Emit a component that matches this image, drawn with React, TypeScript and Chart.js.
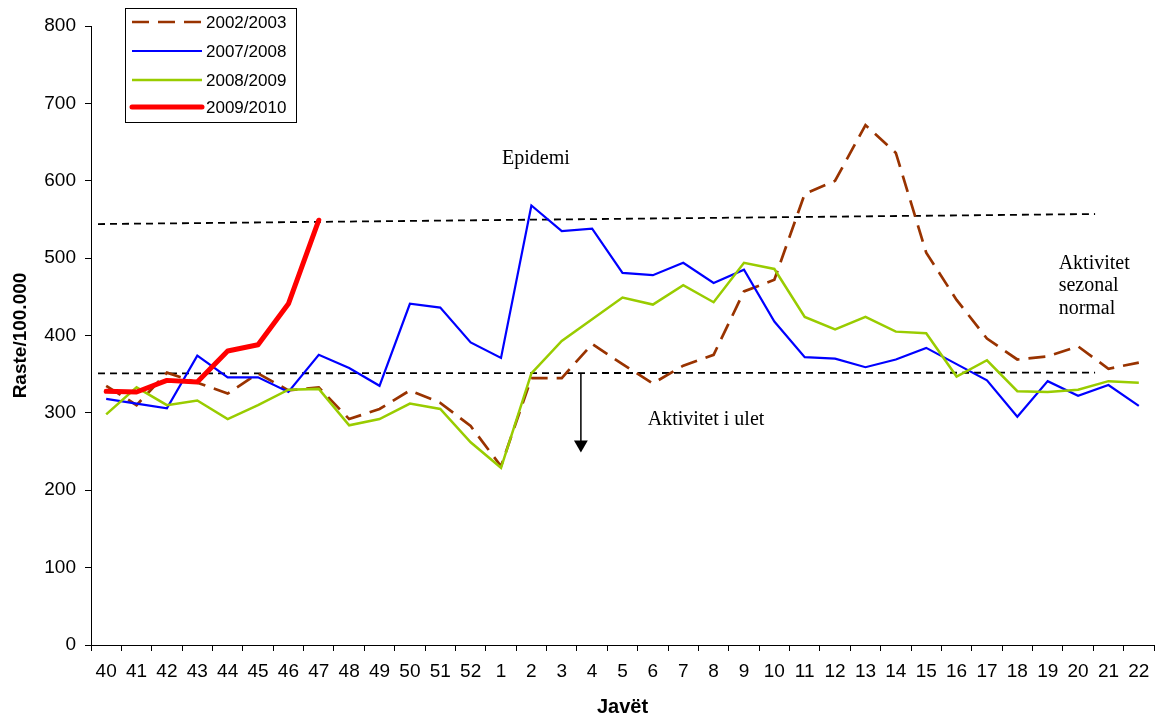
import React, { useEffect, useRef } from "react";
import { Chart, registerables } from "chart.js";

Chart.register(...registerables);

// Week labels (autumn weeks 40-52 then weeks 1-22)
const weeks = [
  "40", "41", "42", "43", "44", "45", "46", "47", "48", "49", "50", "51", "52",
  "1", "2", "3", "4", "5", "6", "7", "8", "9", "10", "11", "12", "13", "14", "15",
  "16", "17", "18", "19", "20", "21", "22",
];

const seriesNames = ["2002/2003", "2007/2008", "2008/2009", "2009/2010"];

const s0203 = [
  335, 310, 352, 339, 325, 351, 329, 333, 292, 305, 329, 313, 283,
  231, 345, 345, 389, 363, 338, 361, 375, 457, 472, 583, 600, 672, 636, 507,
  446, 396, 369, 373, 386, 357, 365,
];
const s0708 = [
  318, 312, 306, 374, 346, 346, 327, 375, 358, 335, 441, 436, 391,
  371, 568, 535, 538, 481, 478, 494, 468, 485, 418, 372, 370, 359, 369, 384,
  363, 342, 295, 341, 322, 336, 309,
];
const s0809 = [
  298, 333, 310, 316, 292, 310, 330, 331, 284, 292, 312, 305, 262,
  229, 351, 393, 421, 449, 440, 465, 443, 494, 486, 424, 408, 424, 405, 403,
  347, 368, 328, 327, 330, 341, 339,
];
const s0910 = [328, 327, 342, 340, 380, 388, 441, 549];

// Threshold lines (x in category-index units)
const epidemicLine = [
  { x: -0.27, y: 544 },
  { x: 32.56, y: 557 },
];
const seasonalLine = [
  { x: -0.27, y: 351 },
  { x: 32.56, y: 352 },
];
const arrowLine = [
  { x: 15.63, y: 351 },
  { x: 15.63, y: 259 },
];

const yTicks = [0, 100, 200, 300, 400, 500, 600, 700, 800];

const SANS = "'Liberation Sans', Arial, sans-serif";
const SERIF = "'Liberation Serif', 'Times New Roman', serif";

const colors = {
  s0203: "#993300",
  s0708: "#0000FF",
  s0809: "#99CC00",
  s0910: "#FF0000",
};

const textPlugin = {
  id: "texts",
  afterDatasetsDraw(chart: any) {
    const { ctx } = chart;
    const xs = chart.scales.xl;
    const ys = chart.scales.y;
    ctx.save();
    ctx.fillStyle = "#000";
    ctx.font = `20px ${SERIF}`;
    ctx.textBaseline = "middle";
    ctx.textAlign = "center";
    ctx.fillText("Epidemi", xs.getPixelForValue(14.15), ys.getPixelForValue(629));
    ctx.fillText("Aktivitet i ulet", xs.getPixelForValue(19.75), ys.getPixelForValue(291));
    ctx.textAlign = "left";
    const lx = xs.getPixelForValue(31.36);
    ctx.fillText("Aktivitet", lx, ys.getPixelForValue(493));
    ctx.fillText("sezonal", lx, ys.getPixelForValue(464));
    ctx.fillText("normal", lx, ys.getPixelForValue(434));
    ctx.restore();
  },
};

const legendPlugin = {
  id: "boxLegend",
  afterDraw(chart: any) {
    const { ctx } = chart;
    ctx.save();
    const bx = 125.5, by = 8.5, bw = 171, bh = 114;
    ctx.fillStyle = "#fff";
    ctx.fillRect(bx, by, bw, bh);
    ctx.strokeStyle = "#000";
    ctx.lineWidth = 1;
    ctx.strokeRect(bx, by, bw, bh);
    const rows = [22, 51, 80, 107];
    const ds = chart.data.datasets;
    for (let i = 0; i < 4; i++) {
      const d = ds[i];
      const y = rows[i];
      ctx.beginPath();
      ctx.strokeStyle = d.borderColor;
      ctx.lineWidth = d.borderWidth;
      ctx.lineCap = i === 3 ? "round" : "butt";
      ctx.setLineDash(d.borderDash || []);
      ctx.moveTo(132, y);
      ctx.lineTo(202, y);
      ctx.stroke();
      ctx.setLineDash([]);
      ctx.fillStyle = "#000";
      ctx.font = `17px ${SANS}`;
      ctx.textBaseline = "middle";
      ctx.textAlign = "left";
      ctx.fillText(d.label, 206, y + 1);
    }
    ctx.restore();
  },
};

const CANVAS_W = 1162;

export default function App() {
  const ref = useRef<HTMLCanvasElement>(null);
  useEffect(() => {
    if (!ref.current) return;
    const chart = new Chart(ref.current, {
      type: "line",
      data: {
        labels: weeks,
        datasets: [
          {
            label: seriesNames[0],
            data: s0203,
            borderColor: colors.s0203,
            borderWidth: 2.7,
            borderDash: [17, 9],
            pointRadius: 0,
            tension: 0,
            order: 4,
            xAxisID: "x",
            yAxisID: "y",
          },
          {
            label: seriesNames[1],
            data: s0708,
            borderColor: colors.s0708,
            borderWidth: 2.2,
            pointRadius: 0,
            tension: 0,
            order: 3,
            xAxisID: "x",
            yAxisID: "y",
          },
          {
            label: seriesNames[2],
            data: s0809,
            borderColor: colors.s0809,
            borderWidth: 2.5,
            pointRadius: 0,
            tension: 0,
            order: 2,
            xAxisID: "x",
            yAxisID: "y",
          },
          {
            label: seriesNames[3],
            data: s0910,
            borderColor: colors.s0910,
            borderWidth: 5,
            borderCapStyle: "round",
            borderJoinStyle: "round",
            pointRadius: 0,
            tension: 0,
            order: 1,
            xAxisID: "x",
            yAxisID: "y",
          },
          {
            label: "epidemic",
            data: epidemicLine as any,
            borderColor: "#000",
            borderWidth: 1.8,
            borderDash: [7, 5],
            pointRadius: 0,
            order: 6,
            xAxisID: "xl",
            yAxisID: "y",
          },
          {
            label: "seasonal",
            data: seasonalLine as any,
            borderColor: "#000",
            borderWidth: 1.8,
            borderDash: [7, 5],
            pointRadius: 0,
            order: 6,
            xAxisID: "xl",
            yAxisID: "y",
          },
          {
            label: "arrow",
            data: arrowLine as any,
            borderColor: "#000",
            borderWidth: 1.5,
            pointRadius: [0, 8],
            pointStyle: "triangle",
            rotation: 180,
            pointBackgroundColor: "#000",
            pointBorderColor: "#000",
            pointBorderWidth: 0,
            order: 5,
            xAxisID: "xl",
            yAxisID: "y",
          },
        ],
      },
      options: {
        animation: false,
        responsive: false,
        events: [],
        layout: { padding: { top: 26, right: 3, left: 0, bottom: 0 } },
        plugins: {
          legend: { display: false },
          tooltip: { enabled: false },
        },
        scales: {
          x: {
            type: "category",
            position: "bottom",
            offset: true,
            grid: {
              display: true,
              offset: true,
              drawOnChartArea: false,
              drawTicks: true,
              tickLength: 6,
              color: "#000",
            },
            border: { display: true, color: "#000", width: 1 },
            ticks: {
              color: "#000",
              font: { family: SANS, size: 19 },
              padding: 9,
              maxRotation: 0,
              autoSkip: false,
            },
            title: {
              display: true,
              text: "Javët",
              color: "#000",
              font: { family: SANS, size: 20, weight: "bold" },
              padding: { top: 0, bottom: 1 },
            },
            afterFit: (s: any) => {
              s.height = 75;
              s.paddingLeft = 0;
              s.paddingRight = 0;
            },
          },
          xl: {
            type: "linear",
            display: false,
            min: -0.5,
            max: 34.5,
            position: "bottom",
          },
          y: {
            type: "linear",
            position: "left",
            min: 0,
            max: 800,
            afterBuildTicks: (s: any) => {
              s.ticks = yTicks.map((v) => ({ value: v }));
            },
            grid: {
              display: true,
              drawOnChartArea: false,
              drawTicks: true,
              tickLength: 6,
              color: "#000",
            },
            border: { display: true, color: "#000", width: 1 },
            ticks: {
              color: "#000",
              font: { family: SANS, size: 19 },
              padding: 9,
            },
            title: {
              display: true,
              text: "Raste/100.000",
              color: "#000",
              font: { family: SANS, size: 19, weight: "bold" },
              padding: { top: 9, bottom: 0 },
            },
            afterFit: (s: any) => {
              s.width = 91;
            },
          },
        },
      },
      plugins: [textPlugin, legendPlugin],
    });
    return () => chart.destroy();
  }, []);

  return (
    <div
      style={{
        position: "fixed",
        left: 0,
        top: 0,
        width: 1157,
        height: 720,
        overflow: "hidden",
        background: "#fff",
      }}
    >
      <canvas
        ref={ref}
        width={CANVAS_W}
        height={720}
        style={{ width: CANVAS_W, height: 720, display: "block" }}
      />
    </div>
  );
}
